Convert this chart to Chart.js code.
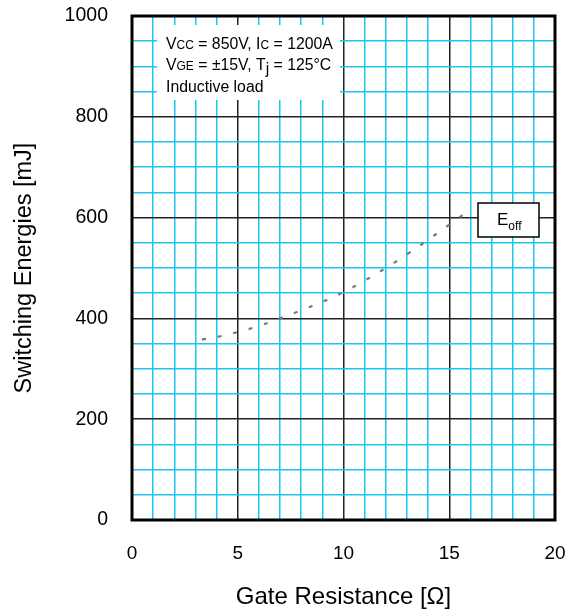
<!DOCTYPE html>
<html>
<head>
<meta charset="utf-8">
<script src="https://cdn.jsdelivr.net/npm/chart.js@4/dist/chart.umd.min.js"></script>
<style>
  html, body { margin: 0; padding: 0; background: #fff; }
  #wrap { width: 578px; height: 612px; }
</style>
</head>
<body>
<div id="wrap"><canvas id="myChart" width="578" height="612"></canvas></div>
<script>
// values
const gateRes = [3.3, 4, 5, 6, 7, 8, 9, 10, 11, 12, 13, 14, 15, 15.8];
const eOff = [358, 363, 373, 385, 400, 416, 433, 452, 475, 500, 527, 556, 586, 610];
const xTicks = [0, 5, 10, 15, 20];
const yTicks = [0, 200, 400, 600, 800, 1000];

const cyan = '#19c6f0';
const dark = '#222';
const fam = '"Liberation Sans", Arial, sans-serif';

function noPad(s) {
    s.paddingTop = 0; s.paddingBottom = 0; s.paddingLeft = 0; s.paddingRight = 0;
}

// frame + text boxes
const boxes = {
    id: 'boxes',
    afterDraw(chart) {
        const ctx = chart.ctx;
        const a = chart.chartArea;
        ctx.save();

        // condition box top-left
        const bx = a.left + 25, by = a.top + 9;
        ctx.fillStyle = '#fff';
        ctx.fillRect(bx, by, 183, 75);
        ctx.fillStyle = '#000';
        ctx.textBaseline = 'alphabetic';
        const big = '15.8px ' + fam;
        const small = '12px ' + fam;
        function parts(list, x, y) {
            list.forEach(p => {
                ctx.font = p[1] === 's' ? small : big;
                const dy = p[1] === 'sub' ? 4 : 0;
                ctx.fillText(p[0], x, y + dy);
                x += ctx.measureText(p[0]).width;
            });
        }
        const tx = a.left + 34;
        parts([['V', 'n'], ['CC', 's'], [' = 850V, I', 'n'], ['C', 's'], [' = 1200A', 'n']], tx, a.top + 33);
        parts([['V', 'n'], ['GE', 's'], [' = \u00b115V, T', 'n'], ['j', 'sub'], [' = 125\u00b0C', 'n']], tx, a.top + 54);
        parts([['Inductive load', 'n']], tx, a.top + 76);

        // legend box
        const lx = a.left + 346, ly = a.top + 187;
        ctx.fillStyle = '#fff';
        ctx.fillRect(lx, ly, 61, 34);
        ctx.strokeStyle = '#000';
        ctx.lineWidth = 1.5;
        ctx.strokeRect(lx, ly, 61, 34);
        ctx.fillStyle = '#000';
        ctx.font = '17px ' + fam;
        ctx.fillText('E', lx + 19, ly + 22);
        const ew = ctx.measureText('E').width;
        ctx.font = '12px ' + fam;
        ctx.fillText('off', lx + 19 + ew, ly + 27);

        // frame
        ctx.strokeStyle = '#000';
        ctx.lineWidth = 3;
        ctx.strokeRect(a.left, a.top, a.right - a.left, a.bottom - a.top);
        ctx.restore();
    }
};

const ctx = document.getElementById('myChart').getContext('2d');
const myChart = new Chart(ctx, {
    type: 'line',
    data: {
        datasets: [{
            label: 'Eoff',
            data: gateRes.map((x, i) => ({ x: x, y: eOff[i] })),
            borderColor: '#7a7a7a',
            borderWidth: 2.2,
            borderDash: [4, 12],
            pointRadius: 0,
            tension: 0.4,
            fill: false
        }]
    },
    options: {
        responsive: false,
        maintainAspectRatio: false,
        animation: false,
        layout: { padding: { left: 0, top: 16, right: 23, bottom: 0 } },
        plugins: {
            legend: { display: false },
            tooltip: { enabled: false }
        },
        scales: {
            x: {
                type: 'linear',
                min: 0,
                max: 20,
                afterFit: s => { s.height = 92; noPad(s); },
                afterBuildTicks: s => { s.ticks = []; for (let v = 0; v <= 20; v++) s.ticks.push({ value: v }); },
                ticks: {
                    padding: 22,
                    autoSkip: false,
                    maxRotation: 0,
                    minRotation: 0,
                    color: '#000',
                    font: { size: 19, family: fam },
                    callback: v => xTicks.includes(v) ? v : ''
                },
                grid: {
                    drawTicks: false,
                    lineWidth: 1.5,
                    color: c => (c.tick && c.tick.value % 5 === 0) ? dark : cyan
                },
                border: { display: false },
                title: {
                    display: true,
                    text: 'Gate Resistance [\u03a9]',
                    color: '#000',
                    font: { size: 24, family: fam },
                    padding: { top: 0, bottom: 0 }
                }
            },
            y: {
                type: 'linear',
                min: 0,
                max: 1000,
                afterFit: s => { s.width = 132; noPad(s); },
                afterBuildTicks: s => { s.ticks = []; for (let v = 0; v <= 1000; v += 50) s.ticks.push({ value: v }); },
                ticks: {
                    padding: 24,
                    autoSkip: false,
                    color: '#000',
                    font: { size: 19.5, family: fam },
                    callback: v => yTicks.includes(v) ? v : ''
                },
                grid: {
                    drawTicks: false,
                    lineWidth: 1.5,
                    color: c => (c.tick && c.tick.value % 200 === 0) ? dark : cyan
                },
                border: { display: false },
                title: {
                    display: true,
                    text: 'Switching Energies [mJ]',
                    color: '#000',
                    font: { size: 23.5, family: fam },
                    padding: { top: 10, bottom: 0 }
                }
            }
        }
    },
    plugins: [boxes]
});
</script>
</body>
</html>
